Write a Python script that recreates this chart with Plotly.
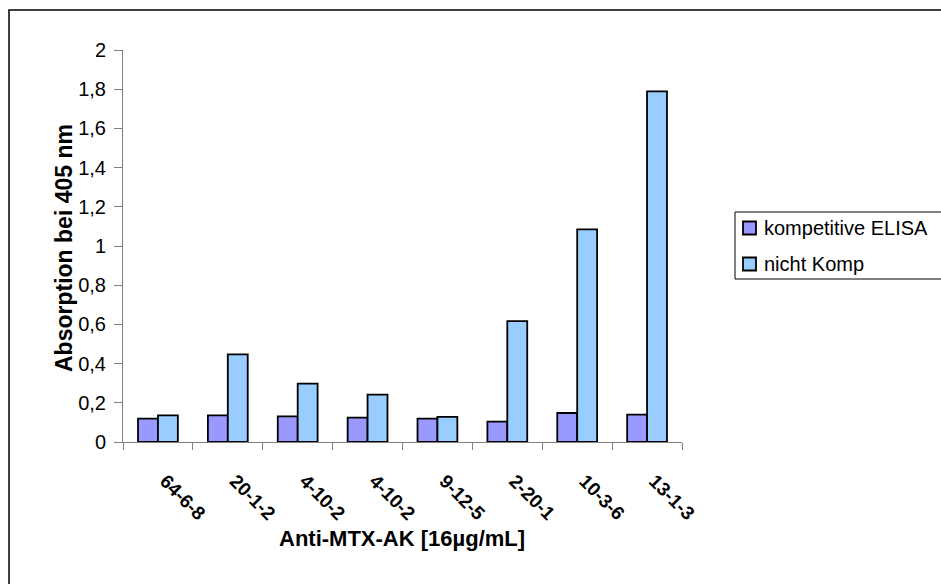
import plotly.graph_objects as go

# Antibody clones and measured absorbance (405 nm)
clones = ["64-6-8", "20-1-2", "4-10-2", "4-10-2 ", "9-12-5", "2-20-1", "10-3-6", "13-1-3"]
kompetitiv = [0.119, 0.136, 0.131, 0.124, 0.119, 0.104, 0.148, 0.140]
nicht_komp = [0.136, 0.447, 0.298, 0.242, 0.128, 0.617, 1.085, 1.789]
y_ticks = [0, 0.2, 0.4, 0.6, 0.8, 1.0, 1.2, 1.4, 1.6, 1.8, 2.0]
series_names = ["kompetitive ELISA", "nicht Komp"]
series_colors = ["#9999FF", "#99CCFF"]

W, H = 941, 584
L, R, T, B = 123, 259, 50, 142
pw, ph = W - L - R, H - T - B
FONT = "Arial, Liberation Sans, sans-serif"


def px_x(x):
    return (x - L) / pw


def px_y(y):
    return (H - B - y) / ph


fig = go.Figure()
for name, vals, col in zip(series_names, [kompetitiv, nicht_komp], series_colors):
    fig.add_trace(go.Bar(
        x=clones, y=vals, name=name,
        marker=dict(color=col, line=dict(color="black", width=1.8)),
    ))

# legend box drawn by hand (frame runs past the right edge)
shapes = [
    dict(type="rect", xref="paper", yref="paper",
         x0=px_x(9), y0=px_y(10), x1=px_x(1100), y1=px_y(700),
         line=dict(color="black", width=1.5), fillcolor="rgba(0,0,0,0)", layer="below"),
    dict(type="rect", xref="paper", yref="paper",
         x0=px_x(735), y0=px_y(212), x1=px_x(960), y1=px_y(279),
         line=dict(color="black", width=1), fillcolor="white"),
]
annotations = [
    dict(text="<b>Anti-MTX-AK [16µg/mL]</b>", xref="paper", yref="paper",
         x=px_x(402), y=px_y(553), showarrow=False, font=dict(size=22)),
    dict(text="<b>Absorption bei 405 nm</b>", xref="paper", yref="paper",
         x=px_x(49), y=px_y(248), showarrow=False, textangle=-90, font=dict(size=23)),
]
for i, (name, col) in enumerate(zip(series_names, series_colors)):
    cy = 228 + 36 * i
    shapes.append(dict(type="rect", xref="paper", yref="paper",
                       x0=px_x(743), x1=px_x(756), y0=px_y(cy - 6.5), y1=px_y(cy + 6.5),
                       line=dict(color="black", width=1.8), fillcolor=col))
    annotations.append(dict(text=name, xref="paper", yref="paper",
                            x=px_x(762), y=px_y(cy), xanchor="left", yanchor="middle",
                            showarrow=False, font=dict(size=20)))

fig.update_layout(
    width=W, height=H,
    margin=dict(l=L, r=R, t=T, b=B),
    paper_bgcolor="white", plot_bgcolor="white",
    barmode="group", bargap=0.43, bargroupgap=0,
    font=dict(family=FONT, size=20, color="black"),
    showlegend=False,
    xaxis=dict(
        type="category", tickangle=45, tickson="boundaries",
        ticks="outside", ticklen=7, tickcolor="#808080",
        showline=True, linecolor="#808080", linewidth=1,
        showgrid=False, tickfont=dict(size=19, family=FONT),
        ticklabelstandoff=12,
        tickvals=clones,
        ticktext=["<b>\u00a0\u00a0%s</b>" % c.strip() for c in clones],
    ),
    yaxis=dict(
        range=[0, 2], tickvals=y_ticks,
        ticktext=[("%g" % v).replace(".", ",") for v in y_ticks],
        ticks="outside", ticklen=8, tickcolor="#808080",
        showline=True, linecolor="#808080", linewidth=1,
        showgrid=False, zeroline=False, tickfont=dict(size=20),
        ticklabelstandoff=4,
    ),
    annotations=annotations,
    shapes=shapes,
)

fig.write_html("out.html")
